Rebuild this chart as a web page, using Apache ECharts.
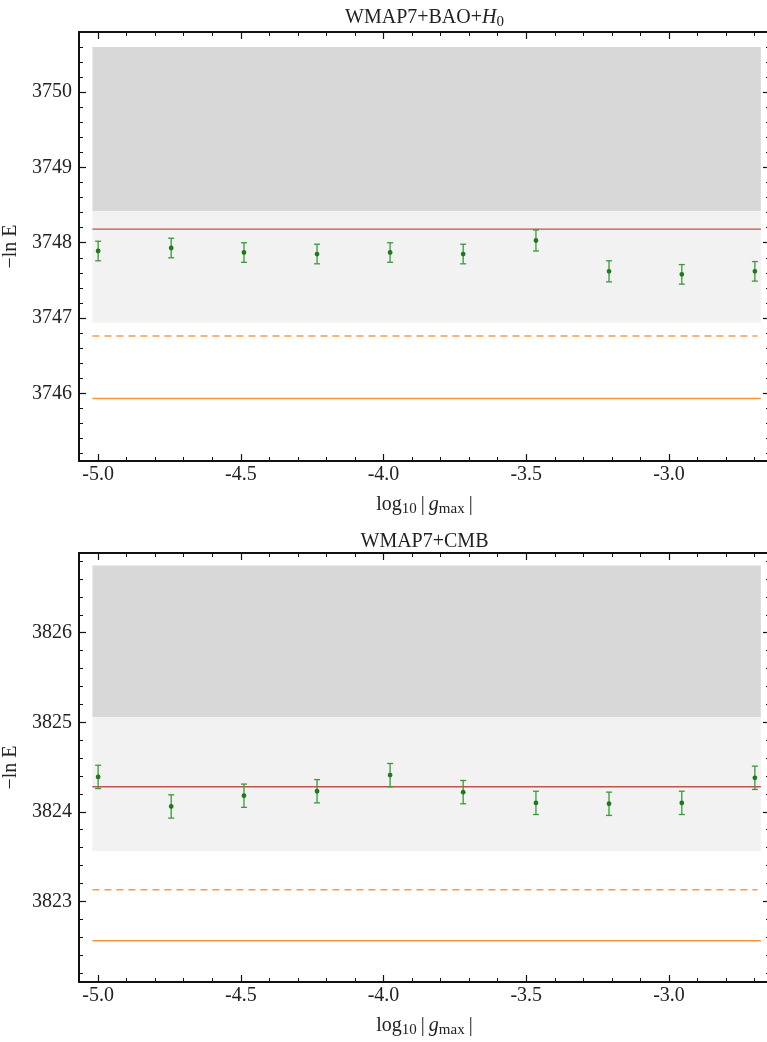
<!DOCTYPE html>
<html>
<head>
<meta charset="utf-8">
<script src="https://cdn.jsdelivr.net/npm/echarts@6/dist/echarts.min.js"></script>
<style>
html,body{margin:0;padding:0;background:#fff;}
#chart{width:767px;height:1042px;}
</style>
</head>
<body>
<div id="chart"></div>
<script>
// ---- data ----
const xVals = [-5.0, -4.744, -4.489, -4.233, -3.977, -3.721, -3.466, -3.210, -2.955, -2.699];
const topVals = [3747.89, 3747.93, 3747.87, 3747.85, 3747.87, 3747.85, 3748.03, 3747.62, 3747.58, 3747.62];
const topErr  = [0.13, 0.13, 0.13, 0.13, 0.13, 0.13, 0.14, 0.14, 0.13, 0.13];
const botVals = [3824.39, 3824.06, 3824.18, 3824.23, 3824.41, 3824.22, 3824.10, 3824.09, 3824.10, 3824.38];
const botErr  = [0.13, 0.13, 0.13, 0.13, 0.13, 0.13, 0.13, 0.13, 0.13, 0.13];

const bandX = [-5.02, -2.678];
const topDarkBand = [3748.42, 3750.60];
const topLightBand = [3746.94, 3748.42];
const botDarkBand = [3825.056, 3826.75];
const botLightBand = [3823.56, 3825.056];

const topRefLines = [3748.18, 3746.76, 3745.93]; // red, dashed orange, solid orange
const botRefLines = [3824.28, 3823.13, 3822.56];
const dashEndX = -2.69;

const xRange = [-5.067, -2.646];
const topYRange = [3745.10, 3750.80];
const botYRange = [3822.10, 3826.89];
const xTickLabels = [-5.0, -4.5, -4.0, -3.5, -3.0];
const topYTicks = [3746, 3747, 3748, 3749, 3750];
const botYTicks = [3823, 3824, 3825, 3826];

const titles = ['{a|WMAP7+BAO+}{i|H}{s|0}', '{a|WMAP7+CMB}'];
const xName = '{a|log}{s|10}{a|\u2009|\u2009}{i|g}{s|max}{a|\u2009|}';
const yName = '\u2212ln E';

// ---- styles ----
const FONT = 'Liberation Serif';
const richStyles = {
  a: {fontFamily: FONT, fontSize: 20, color: '#222'},
  i: {fontFamily: FONT, fontSize: 20, fontStyle: 'italic', color: '#222'},
  s: {fontFamily: FONT, fontSize: 15, color: '#222', padding: [10, 0, 0, 0]}
};

const chart = echarts.init(document.getElementById('chart'), null, {renderer: 'canvas'});

const grids = [
  {left: 79, top: 32, width: 691, height: 429, outerBoundsMode: 'none', containLabel: false},
  {left: 79, top: 553, width: 691, height: 429, outerBoundsMode: 'none', containLabel: false}
];

function xAxes(gi) {
  const common = {
    type: 'value', gridIndex: gi, min: xRange[0], max: xRange[1], splitNumber: 5,
    splitLine: {show: false},
    axisLine: {show: true, onZero: false, lineStyle: {color: '#111', width: 2}},
    axisTick: {show: true, inside: true, length: 7, customValues: xTickLabels, lineStyle: {color: '#111', width: 1.2}},
    minorTick: {show: true, splitNumber: 5, length: 4, lineStyle: {color: '#111', width: 1}}
  };
  return [
    Object.assign({}, common, {
      position: 'bottom',
      name: xName, nameLocation: 'middle', nameGap: 31,
      nameTextStyle: {rich: richStyles},
      axisLabel: {show: true, customValues: xTickLabels, margin: 4, fontFamily: FONT, fontSize: 20, color: '#222',
        formatter: v => v.toFixed(1)}
    }),
    Object.assign({}, common, {
      position: 'top',
      name: titles[gi], nameLocation: 'middle', nameGap: gi === 0 ? 2 : 1,
      nameTextStyle: {rich: richStyles},
      axisLabel: {show: false}
    })
  ];
}

function yAxes(gi, range, ticks) {
  const common = {
    type: 'value', gridIndex: gi, min: range[0], max: range[1], splitNumber: 5,
    splitLine: {show: false},
    axisLine: {show: true, onZero: false, lineStyle: {color: '#111', width: 2}},
    axisTick: {show: true, inside: true, length: 7, customValues: ticks, lineStyle: {color: '#111', width: 1.2}},
    minorTick: {show: true, splitNumber: 5, length: 4, lineStyle: {color: '#111', width: 1}}
  };
  return [
    Object.assign({}, common, {
      position: 'left',
      name: yName, nameLocation: 'middle', nameGap: 49,
      nameTextStyle: {fontFamily: FONT, fontSize: 20, color: '#222'},
      axisLabel: {show: true, customValues: ticks, margin: 7, fontFamily: FONT, fontSize: 20, color: '#222',
        formatter: v => String(Math.round(v))}
    }),
    Object.assign({}, common, {
      position: 'right',
      axisLabel: {show: false}
    })
  ];
}

function bandSeries(gi, bands, colors) {
  return {
    type: 'custom', xAxisIndex: gi * 2, yAxisIndex: gi * 2, z: 1, silent: true,
    data: bands.map((b, k) => [bandX[0], bandX[1], b[0], b[1], k]),
    renderItem: function (params, api) {
      const p0 = api.coord([api.value(0), api.value(3)]);
      const p1 = api.coord([api.value(1), api.value(2)]);
      return {type: 'rect', shape: {x: p0[0], y: p0[1], width: p1[0] - p0[0], height: p1[1] - p0[1]},
        style: {fill: colors[api.value(4)]}};
    }
  };
}

function refLine(gi, y, color, dashed, xEnd, width) {
  return {
    type: 'line', xAxisIndex: gi * 2, yAxisIndex: gi * 2, z: 3, silent: true,
    showSymbol: false, symbol: 'none',
    data: [[bandX[0], y], [xEnd, y]],
    lineStyle: {color: color, width: width, type: dashed ? [7, 5] : 'solid'}
  };
}

function errSeries(gi, vals, errs) {
  return {
    type: 'custom', xAxisIndex: gi * 2, yAxisIndex: gi * 2, z: 5, silent: true,
    data: xVals.map((x, k) => [x, vals[k], errs[k]]),
    renderItem: function (params, api) {
      const x = api.value(0), y = api.value(1), e = api.value(2);
      const p = api.coord([x, y]);
      const pt = api.coord([x, y + e]);
      const pb = api.coord([x, y - e]);
      const cw = 3;
      const st = {stroke: '#3a9a3a', lineWidth: 1.3};
      return {type: 'group', children: [
        {type: 'line', shape: {x1: p[0], y1: pt[1], x2: p[0], y2: pb[1]}, style: st},
        {type: 'line', shape: {x1: p[0] - cw, y1: pt[1], x2: p[0] + cw, y2: pt[1]}, style: st},
        {type: 'line', shape: {x1: p[0] - cw, y1: pb[1], x2: p[0] + cw, y2: pb[1]}, style: st},
        {type: 'circle', shape: {cx: p[0], cy: p[1], r: 2.4}, style: {fill: '#1d7a1d'}}
      ]};
    }
  };
}

const series = [];
[[topDarkBand, topLightBand, topRefLines, topVals, topErr], [botDarkBand, botLightBand, botRefLines, botVals, botErr]]
  .forEach((d, gi) => {
    series.push(bandSeries(gi, [d[0], d[1]], ['#d8d8d8', '#f2f2f2']));
    series.push(refLine(gi, d[2][0], '#c4504c', false, bandX[1], gi === 0 ? 1.2 : 1.6));
    series.push(refLine(gi, d[2][1], '#f99b45', true, dashEndX, 1.5));
    series.push(refLine(gi, d[2][2], '#f7923a', false, bandX[1], 1.4));
    series.push(errSeries(gi, d[3], d[4]));
  });

chart.setOption({
  animation: false,
  backgroundColor: '#fff',
  grid: grids,
  xAxis: [].concat(xAxes(0), xAxes(1)),
  yAxis: [].concat(yAxes(0, topYRange, topYTicks), yAxes(1, botYRange, botYTicks)),
  series: series
});
</script>
</body>
</html>
